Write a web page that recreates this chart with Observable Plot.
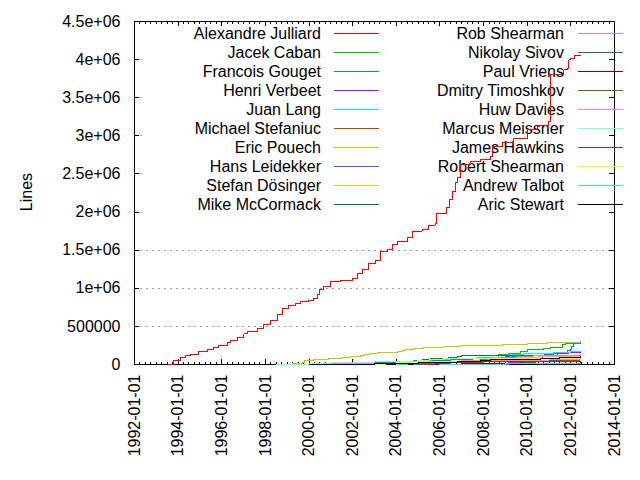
<!DOCTYPE html>
<html>
<head>
<meta charset="utf-8">
<script src="https://cdn.jsdelivr.net/npm/d3@7"></script>
<script src="https://cdn.jsdelivr.net/npm/@observablehq/plot@0.6"></script>
<style>
  html, body { margin: 0; padding: 0; background: white; }
  svg { display: block; }
</style>
</head>
<body>
<div id="chart"></div>
<script>
// ---- data (decimal year, cumulative lines) ----
const authorNames = ["Alexandre Julliard","Jacek Caban","Francois Gouget","Henri Verbeet","Juan Lang","Michael Stefaniuc","Eric Pouech","Hans Leidekker","Stefan Dösinger","Mike McCormack","Rob Shearman","Nikolay Sivov","Paul Vriens","Dmitry Timoshkov","Huw Davies","Marcus Meissner","James Hawkins","Robert Shearman","Andrew Talbot","Aric Stewart"];
const authorColors = ["#ff0000","#00c000","#0080ff","#c000ff","#00eeee","#c04000","#c8c800","#4169e1","#ffc020","#008040","#c080ff","#306080","#8b0000","#408000","#ff80ff","#7fffd4","#a52a2a","#ffff00","#40e0d0","#000000"];

const julliard = [[1993.56,0],[1993.77,52000],[1994.11,88000],[1994.34,114000],[1994.57,135000],[1994.95,166000],[1995.33,192000],[1995.63,222000],[1995.86,244000],[1996.25,284000],[1996.40,314000],[1996.71,349000],[1997.01,401000],[1997.16,427000],[1997.62,474000],[1997.93,523000],[1998.23,575000],[1998.54,650000],[1998.80,736000],[1999.07,771000],[1999.38,806000],[1999.61,832000],[1999.99,836000],[2000.22,872000],[2000.40,915000],[2000.49,989000],[2000.68,1028000],[2000.98,1085000],[2001.44,1098000],[2001.98,1133000],[2002.21,1193000],[2002.44,1241000],[2002.74,1324000],[2003.04,1359000],[2003.20,1368000],[2003.27,1477000],[2003.58,1512000],[2003.81,1568000],[2004.04,1611000],[2004.50,1664000],[2004.73,1751000],[2005.19,1773000],[2005.49,1830000],[2005.79,1852000],[2005.83,1977000],[2006.02,1982000],[2006.30,2060000],[2006.45,2165000],[2006.56,2274000],[2006.71,2382000],[2006.79,2448000],[2006.94,2578000],[2006.96,2623000],[2007.40,2657000],[2007.86,2688000],[2008.32,2731000],[2008.39,2862000],[2008.85,2914000],[2009.38,2970000],[2010.00,3080000],[2010.46,3136000],[2010.99,3189000],[2011.06,3799000],[2011.37,3807000],[2011.67,3864000],[2011.83,3885000],[2011.90,3995000],[2011.98,4016000],[2012.16,4051000],[2012.44,4060000]];
const caban = [[2004.9,0],[2005.5,10000],[2006.3,25000],[2007.0,45000],[2007.8,70000],[2008.4,95000],[2008.7,127000],[2009.15,148000],[2009.69,170000],[2009.99,192000],[2010.76,205000],[2011.07,222000],[2011.6,257000],[2011.75,278000],[2012.21,291000],[2012.44,296000]];
const gouget = [[1999.4,0],[2000.0,8000],[2001.0,18000],[2002.0,25000],[2003.0,32000],[2004.0,40000],[2004.8,48000],[2005.5,55000],[2006.5,65000],[2007.5,80000],[2008.5,95000],[2009.0,105000],[2010.0,120000],[2010.8,132000],[2011.22,140000],[2011.6,160000],[2011.83,179000],[2011.98,200000],[2012.05,240000],[2012.13,278000],[2012.44,280000]];
const verbeet = [[2006.3,0],[2007.0,4000],[2008.0,12000],[2009.15,30000],[2009.7,50000],[2010.2,75000],[2010.7,100000],[2011.2,118000],[2011.38,148000],[2011.9,152000],[2012.44,156000]];
const lang = [[2004.0,0],[2004.5,20000],[2005.0,45000],[2005.6,70000],[2006.4,85000],[2007.71,95000],[2008.7,118000],[2009.15,127000],[2009.84,148000],[2011.22,161000],[2012.0,168000],[2012.44,170000]];
const stefaniuc = [[2000.5,0],[2002.0,8000],[2004.0,18000],[2006.0,28000],[2008.0,38000],[2009.5,45000],[2010.5,50000],[2011.5,54000],[2012.44,57000]];
const pouech = [[1998.9,0],[1999.23,9000],[1999.69,22000],[1999.79,52000],[2000.22,65000],[2000.90,78000],[2001.52,91000],[2001.90,105000],[2002.36,118000],[2002.54,131000],[2002.78,144000],[2003.15,157000],[2004.07,170000],[2004.30,183000],[2004.42,192000],[2004.80,205000],[2005.26,218000],[2006.18,231000],[2006.94,244000],[2008.85,257000],[2010.00,270000],[2010.91,284000],[2012.29,291000],[2012.44,291000]];
const leidekker = [[2004.8,0],[2005.5,10000],[2006.5,22000],[2007.5,35000],[2008.5,45000],[2009.5,53000],[2010.5,58000],[2011.5,63000],[2012.44,66000]];
const dosinger = [[2006.0,0],[2006.6,20000],[2007.2,50000],[2007.8,75000],[2008.5,90000],[2009.5,96000],[2010.5,100000],[2012.44,104000]];
const mccormack = [[2001.5,0],[2002.5,5000],[2003.5,12000],[2004.3,25000],[2004.8,35000],[2005.19,61000],[2005.57,74000],[2006.41,91000],[2006.79,105000],[2007.0,117000],[2012.44,117000]];
const robShearman = [[2006.4,0],[2007.0,20000],[2007.6,45000],[2008.2,70000],[2008.8,90000],[2009.5,105000],[2010.3,115000],[2011.0,122000],[2012.44,126000]];
const sivov = [[2008.6,0],[2009.2,10000],[2009.8,25000],[2010.4,40000],[2011.0,55000],[2011.6,65000],[2012.44,75000]];
const vriens = [[2006.3,0],[2007.0,8000],[2008.0,15000],[2009.0,18000],[2012.44,20000]];
const timoshkov = [[1999.3,0],[2000.5,8000],[2002.0,15000],[2004.0,22000],[2006.0,30000],[2008.0,38000],[2010.0,45000],[2012.44,52000]];
const davies = [[1998.8,0],[2000.0,8000],[2002.0,18000],[2004.0,30000],[2006.0,42000],[2007.0,48000],[2009.0,55000],[2011.0,62000],[2012.44,68000]];
const meissner = [[1998.5,0],[2000.0,15000],[2001.0,30000],[2003.0,36000],[2005.0,40000],[2008.0,44000],[2012.44,47000]];
const hawkins = [[2005.3,0],[2005.8,10000],[2006.4,20000],[2007.0,30000],[2007.6,38000],[2008.2,42000],[2012.44,43000]];
const robertShearman = [[2003.0,0],[2003.5,10000],[2004.0,22000],[2004.95,48000],[2005.5,62000],[2006.18,74000],[2006.7,78000],[2012.44,78000]];
const talbot = [[2006.0,0],[2007.0,3000],[2008.0,6000],[2009.0,9000],[2010.0,11000],[2012.44,13000]];
const stewart = [[2000.0,0],[2001.0,3000],[2003.0,8000],[2005.0,20000],[2006.79,39000],[2007.86,52000],[2008.32,61000],[2010.6,82000],[2011.5,95000],[2012.44,105000]];

const authorSeries = [julliard, caban, gouget, verbeet, lang, stefaniuc, pouech, leidekker, dosinger, mccormack, robShearman, sivov, vriens, timoshkov, davies, meissner, hawkins, robertShearman, talbot, stewart];

const yTicks = [0, 500000, 1000000, 1500000, 2000000, 2500000, 3000000, 3500000, 4000000, 4500000];
const xMajorYears = [1992, 1994, 1996, 1998, 2000, 2002, 2004, 2006, 2008, 2010, 2012, 2014];

// ---- helpers ----
function yd(y) {
  const yr = Math.floor(y);
  const s = Date.UTC(yr, 0, 1), e = Date.UTC(yr + 1, 0, 1);
  return new Date(s + (y - yr) * (e - s));
}
const rows = [];
authorSeries.forEach((pts, i) => {
  pts.forEach(([t, v]) => rows.push({author: authorNames[i], date: yd(t), lines: v}));
});
const xMajor = xMajorYears.map(y => new Date(Date.UTC(y, 0, 1)));
const xMinor = d3.utcMonth.every(3).range(new Date(Date.UTC(1992,0,1)), new Date(Date.UTC(2014,0,2)));
const gfmt = v => v === 0 ? "0" : (v < 1e6 ? String(v) : (v / 1e6) + "e+06");

const W = 640, H = 480, mL = 134, mR = 26, mT = 21, mB = 116;
const fH = H - mT - mB, fW = W - mL - mR;
const crisp = {shapeRendering: "crispEdges"};

const chart = Plot.plot({
  width: W, height: H,
  marginLeft: mL, marginRight: mR, marginTop: mT, marginBottom: mB,
  style: {fontFamily: "'Liberation Sans', Arial, sans-serif", fontSize: "16px", background: "white", color: "black", overflow: "visible"},
  x: {type: "utc", domain: [xMajor[0], xMajor[xMajor.length - 1]]},
  y: {domain: [0, 4500000]},
  color: {domain: authorNames, range: authorColors},
  marks: [
    Plot.gridY(yTicks, {stroke: "#a0a0a0", strokeOpacity: 1, strokeDasharray: "2,4", ...crisp}),
    Plot.frame({stroke: "black", strokeWidth: 1, ...crisp}),
    Plot.ruleY(yTicks, {y: d => d, insetRight: fW - 5, stroke: "black", ...crisp}),
    Plot.ruleY(yTicks, {y: d => d, insetLeft: fW - 5, stroke: "black", ...crisp}),
    Plot.ruleX(xMinor, {x: d => d, insetTop: fH - 2.5, stroke: "black", ...crisp}),
    Plot.ruleX(xMinor, {x: d => d, insetBottom: fH - 2.5, stroke: "black", ...crisp}),
    Plot.ruleX(xMajor, {x: d => d, insetTop: fH - 5, stroke: "black", ...crisp}),
    Plot.ruleX(xMajor, {x: d => d, insetBottom: fH - 5, stroke: "black", ...crisp}),
    Plot.axisX(xMajor, {tickFormat: d3.utcFormat("%Y-%m-%d"), tickRotate: -90, tickSize: 0, tickPadding: 10, label: null}),
    Plot.axisY(yTicks, {tickFormat: gfmt, tickSize: 0, tickPadding: 14, label: null}),
    Plot.line(rows, {x: "date", y: "lines", z: "author", stroke: "author", curve: "step-after", strokeWidth: 1, ...crisp})
  ]
});
document.getElementById("chart").appendChild(chart);

// ---- y label, key ----
const svg = d3.select(chart);
svg.append("text").attr("transform", "translate(26,192) rotate(-90)")
  .attr("text-anchor", "middle").attr("dy", "0.35em").attr("fill", "black").text("Lines");

const frameNode = chart.querySelector('[aria-label="frame"]');
const bg = document.createElementNS("http://www.w3.org/2000/svg", "rect");
bg.setAttribute("x", 145); bg.setAttribute("y", 23); bg.setAttribute("width", 468); bg.setAttribute("height", 191);
bg.setAttribute("fill", "white");
frameNode.parentNode.insertBefore(bg, frameNode);

const lineNode = chart.querySelector('[aria-label="line"]');
const key = document.createElementNS("http://www.w3.org/2000/svg", "g");
key.setAttribute("shape-rendering", "crispEdges");
lineNode.parentNode.insertBefore(key, lineNode);
const kg = d3.select(key);
authorNames.forEach((name, i) => {
  const col = Math.floor(i / 10), row = i % 10;
  const cy = 33.5 + row * 19;
  const tx = col === 0 ? 321 : 564;
  const lx = col === 0 ? 334 : 578;
  kg.append("text").attr("x", tx).attr("y", cy).attr("dy", "0.35em").attr("text-anchor", "end").attr("fill", "black").text(name);
  kg.append("line").attr("x1", lx).attr("x2", lx + 45).attr("y1", cy).attr("y2", cy).attr("stroke", authorColors[i]).attr("stroke-width", 1);
});
</script>
</body>
</html>
